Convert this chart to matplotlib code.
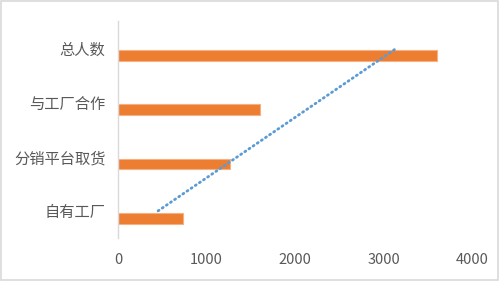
import numpy as np
import matplotlib
matplotlib.use('Agg')
import matplotlib.pyplot as plt
from matplotlib.patches import Rectangle

plt.rcParams['font.family'] = ['Noto Sans CJK SC', 'DejaVu Sans']

# data (bottom to top, as drawn)
categories = ['自有工厂', '分销平台取货', '与工厂合作', '总人数']
values = [730, 1260, 1600, 3610]
x_ticks = [0, 1000, 2000, 3000, 4000]

BAR_COLOR = '#ED7D31'
TREND_COLOR = '#5B9BD5'
TEXT_COLOR = '#595959'
LINE_COLOR = '#D9D9D9'

fig = plt.figure(figsize=(5, 2.81), dpi=100)
ax = fig.add_axes([0.236, 0.153, 0.708, 0.772])

pos = np.arange(len(categories))
# bars sit a bit below the category centre (empty second series in the original)
ax.barh(pos - 0.135, values, height=0.2, color=BAR_COLOR,
        edgecolor='#F4B183', linewidth=0.8)

# linear trendline over category index
slope, intercept = np.polyfit(pos, values, 1)
trend = slope * pos + intercept
ax.plot(trend, pos, color=TREND_COLOR, linewidth=2.0,
        linestyle=(0, (0.4, 1.4)), dash_capstyle='round')

ax.set_xlim(0, 4000)
ax.set_ylim(-0.5, 3.5)
ax.set_xticks(x_ticks)
ax.set_xticklabels([str(t) for t in x_ticks])
ax.set_yticks(pos)
ax.set_yticklabels(categories)

for s in ['top', 'right', 'bottom']:
    ax.spines[s].set_visible(False)
ax.spines['left'].set_color(LINE_COLOR)
ax.spines['left'].set_linewidth(1.0)

ax.tick_params(axis='x', length=0, pad=11, labelsize=10.5, labelcolor=TEXT_COLOR)
ax.tick_params(axis='y', length=0, pad=9, labelsize=11, labelcolor=TEXT_COLOR)

# chart border
fig.patches.append(Rectangle((0.002, 0.004), 0.994, 0.992, transform=fig.transFigure,
                             fill=False, edgecolor=LINE_COLOR, linewidth=1.2))

fig.savefig('out.png', dpi=100)
